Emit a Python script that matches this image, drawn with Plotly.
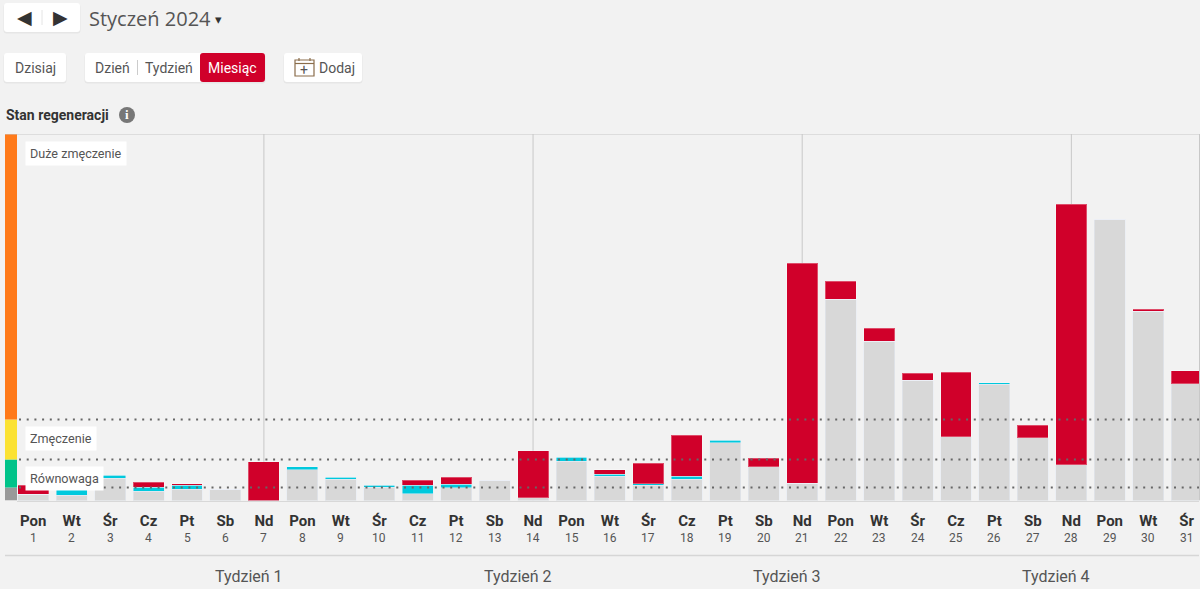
import plotly.graph_objects as go

# wysokosci segmentow slupkow dla kazdego dnia stycznia
days = list(range(1, 32))
weekdays = ["Pon", "Wt", "Śr", "Cz", "Pt", "Sb", "Nd"] * 4 + ["Pon", "Wt", "Śr"]
rest = [6.5, 5.5, 22.5, 9.5, 11.5, 11.5, 0, 31, 21.5, 13.5, 7, 13, 20.5, 3, 39.5, 24.5, 15.5, 21.5,
        58, 34, 17.5, 201.5, 159.5, 120.5, 64, 116.5, 63, 36, 281.5, 189.5, 117]
cyan = [0, 7, 3, 4, 4, 0, 0, 3, 2, 2, 8.5, 3.5, 0, 0, 4, 2, 1.5, 3, 2.5, 0, 0, 0, 0, 0, 0, 1.5, 0, 0, 0, 0, 0]
red = [9, 0, 0, 5, 1.5, 0, 39, 0, 0, 0, 5, 7, 0, 47, 0, 4.5, 20.5, 41, 0, 8.5, 220, 18, 13, 7, 64.5, 0, 12.5, 260.5, 0, 2, 13]

zones = ["Równowaga", "Zmęczenie", "Duże zmęczenie"]
zone_label_y = [478, 438, 153]
zone_limits = [0, 13, 41, 81, 366.5]
zone_colors = ["#999999", "#00c389", "#fbe233", "#ff7a1a"]
week_names = ["Tydzień 1", "Tydzień 2", "Tydzień 3", "Tydzień 4"]
week_ends = [7, 14, 21, 28]

RED = "#d0002a"
TEXT = "#555555"
BG = "#f2f2f2"
BORDER = "#c8c8c8"

fig = go.Figure()
fig.add_bar(x=days, y=rest, marker_color="#d8d8d8", width=0.806)
fig.add_bar(x=days, y=cyan, marker_color="#00c9dd", width=0.806)
fig.add_bar(x=days, y=red, marker_color=RED, width=0.806, marker_line=dict(color="rgba(255,255,255,0.3)", width=1))

shapes = []
annots = []


def px_x(v):
    return v / 1200


def px_y(v):
    return 1 - v / 589


def box(x0, y0, x1, y1, fill="white", r=3):
    # prostokat z zaokraglonymi rogami, wspolrzedne w pikselach strony
    pts = [(x0 + r, y0), (x1 - r, y0), (x1, y0), (x1, y0 + r), (x1, y1 - r), (x1, y1), (x1 - r, y1),
           (x0 + r, y1), (x0, y1), (x0, y1 - r), (x0, y0 + r), (x0, y0), (x0 + r, y0)]
    c = [f"{px_x(a):.5f},{px_y(b):.5f}" for a, b in pts]
    path = f"M{c[0]} L{c[1]} Q{c[2]} {c[3]} L{c[4]} Q{c[5]} {c[6]} L{c[7]} Q{c[8]} {c[9]} L{c[10]} Q{c[11]} {c[12]} Z"
    shapes.append(dict(type="path", path=path, xref="paper", yref="paper", fillcolor=fill, line_width=0, layer="below"))


def button(x0, y0, x1, y1):
    # lekki cien pod przyciskiem
    box(x0 - 0.5, y0 + 1, x1 + 0.5, y1 + 1.5, "#e6e6e6")
    box(x0, y0, x1, y1)


def sep(x0, y0, x1, y1, color="#d8d8d8", width=1):
    shapes.append(dict(type="line", x0=px_x(x0), y0=px_y(y0), x1=px_x(x1), y1=px_y(y1), xref="paper", yref="paper",
                       line=dict(color=color, width=width), layer="below"))


def label(x, y, text, size=14, color=TEXT, anchor="center", family="Roboto", bg=None, pad=0):
    annots.append(dict(x=px_x(x), y=px_y(y), xref="paper", yref="paper", text=text, showarrow=False, xanchor=anchor,
                       yanchor="middle", font=dict(size=size, color=color, family=family), bgcolor=bg, borderpad=pad))


# pasek stref po lewej stronie i linie progow
for i in range(len(zone_colors)):
    shapes.append(dict(type="rect", x0=px_x(5), x1=px_x(17), xref="paper", y0=zone_limits[i], y1=zone_limits[i + 1],
                       yref="y", fillcolor=zone_colors[i], line_width=0))
for lim in zone_limits[1:4]:
    shapes.append(dict(type="line", x0=px_x(19), x1=px_x(1199), xref="paper", y0=lim, y1=lim, yref="y",
                       line=dict(color="#666666", width=2, dash="2px 5.7px"), layer="above"))
# linie tygodni
for d in week_ends:
    shapes.append(dict(type="line", x0=d, x1=d, xref="x", y0=0, y1=366.5, yref="y",
                       line=dict(color=BORDER, width=1), layer="below"))
# obramowanie wykresu
shapes.append(dict(type="line", x0=px_x(5), x1=px_x(1199), xref="paper", y0=366.5, y1=366.5, yref="y",
                   line=dict(color=BORDER, width=1)))
shapes.append(dict(type="line", x0=px_x(1199.5), x1=px_x(1199.5), xref="paper", y0=0, y1=366.5, yref="y",
                   line=dict(color=BORDER, width=1)))

# gorny pasek przyciskow
button(4, 3, 80, 32)
sep(42, 10, 42, 25, "#e4e4e4")
label(24, 17, "◀", 19, "#333333", family="DejaVu Sans")
label(60, 17, "▶", 19, "#333333", family="DejaVu Sans")
label(87.5, 19, "Styczeń 2024", 20, TEXT, "left", "Open Sans")
label(218, 20, "▾", 13, "#333333", family="DejaVu Sans")
button(4, 53, 66, 82)
label(35, 67.5, "Dzisiaj")
button(85, 53, 265, 82)
box(200, 53, 265, 82, RED)
sep(137.5, 60, 137.5, 75, "#cccccc")
label(112, 67.5, "Dzień")
label(169.5, 67.5, "Tydzień")
label(233, 67.5, "Miesiąc", 14, "white")
button(284, 53, 362, 82)
label(317.5, 67.5, "Dodaj", anchor="left")
label(4.5, 115, "<b>Stan regeneracji</b>", 14, "#333333", "left")
shapes.append(dict(type="circle", x0=px_x(119), x1=px_x(135), y0=px_y(107), y1=px_y(123), xref="paper", yref="paper",
                   fillcolor="#777777", line_width=0, layer="below"))
label(127, 115, "<b>i</b>", 13, "white", family="Liberation Serif")
# ikona kalendarza
shapes.append(dict(type="rect", x0=px_x(295), x1=px_x(314), y0=px_y(60), y1=px_y(76), xref="paper", yref="paper",
                   line=dict(color="#8a6d4b", width=1.2), fillcolor="white", layer="below"))
sep(295, 63.5, 314, 63.5, "#8a6d4b", 1.2)
sep(299, 58, 299, 61, "#8a6d4b", 1.2)
sep(310, 58, 310, 61, "#8a6d4b", 1.2)
label(304.5, 69.5, "+", 14, "#555555")

# etykiety stref, dni i tygodni
for z, y in zip(zones, zone_label_y):
    label(25, y, z, 12.6, "#555555", "left", bg="white", pad=4)
for d in days:
    annots.append(dict(x=d, y=px_y(538), xref="x", yref="paper", text=str(d), showarrow=False, yanchor="middle",
                       font=dict(size=12, color=TEXT, family="Roboto")))
sep(5, 555.5, 1199, 555.5, "#d6d6d6", 1.5)
for name, d in zip(week_names, week_ends):
    annots.append(dict(x=d - 0.4, y=px_y(576), xref="x", yref="paper", text=name, showarrow=False, yanchor="middle",
                       font=dict(size=16, color=TEXT, family="Roboto")))

fig.update_layout(
    barmode="stack",
    width=1200,
    height=589,
    margin=dict(l=0, r=0, t=0, b=0),
    paper_bgcolor=BG,
    plot_bgcolor=BG,
    showlegend=False,
    shapes=shapes,
    annotations=annots,
    xaxis=dict(domain=[17 / 1200, 1199 / 1200], range=[0.5787, 31.32], tickmode="array", tickvals=days,
               ticktext=[f"<b>{w}</b>" for w in weekdays], showgrid=False, zeroline=False, showline=True,
               linecolor="#d8d8d8", ticks="outside", ticklen=6, tickcolor=BG,
               tickfont=dict(size=15, color="#333333", family="Roboto")),
    yaxis=dict(domain=[1 - 500.5 / 589, 1 - 134 / 589], range=[0, 366.5], showticklabels=False,
               showgrid=False, zeroline=False, showline=False, ticks=""),
)

fig.write_html("out.html", post_script="document.body.style.margin='0';", config={"displayModeBar": False})
